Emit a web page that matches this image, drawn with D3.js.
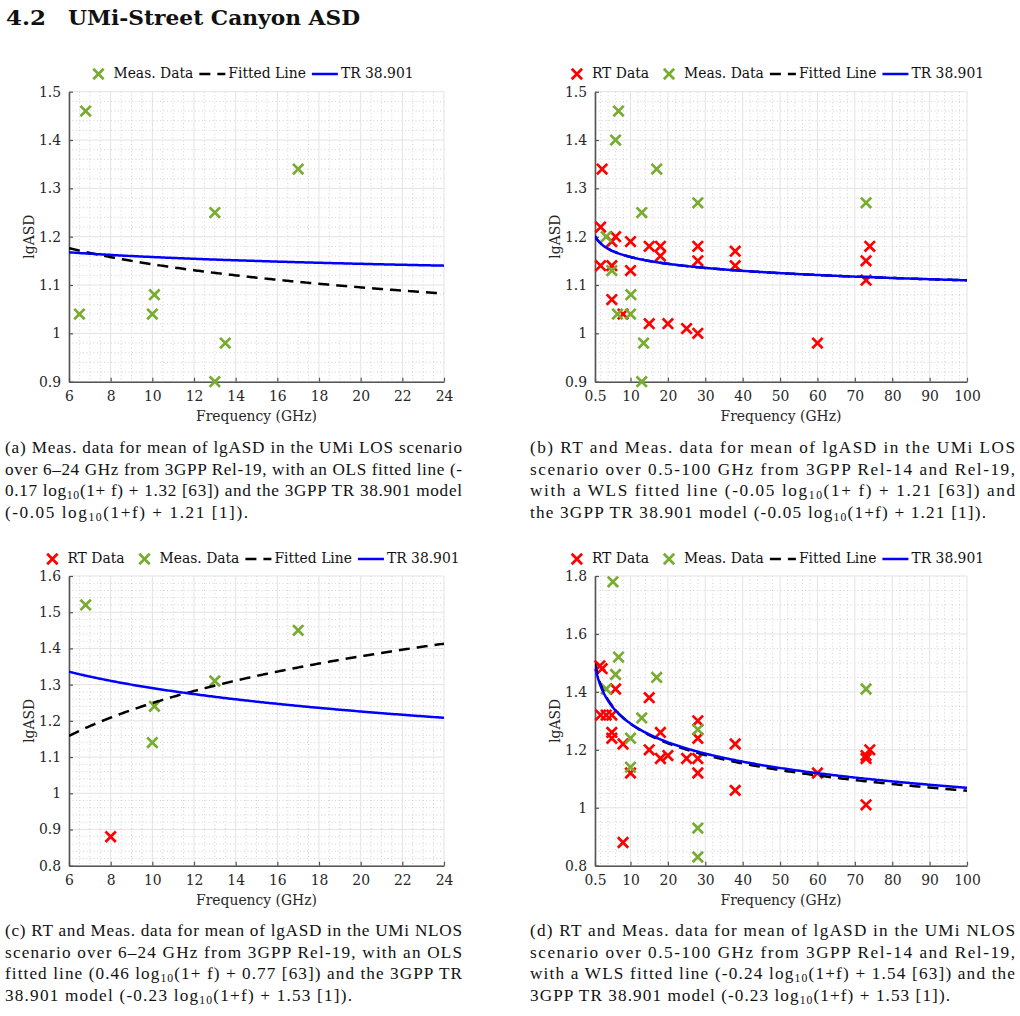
<!DOCTYPE html>
<html><head><meta charset="utf-8">
<script src="https://cdn.jsdelivr.net/npm/d3@7"></script>
<style>
html,body{margin:0;padding:0;background:#fff;}
svg{display:block;}
</style></head>
<body>
<svg id="chart" width="1020" height="1016"></svg>
<script>
// ---------------- DATA ----------------
// Panel (a): UMi LOS, 6-24 GHz, Meas. only
const aMeasF = [6.5, 6.8, 10, 10.1, 13, 13, 13.5, 17];
const aMeasV = [1.04, 1.46, 1.04, 1.08, 1.25, 0.90, 0.98, 1.34];
// Panel (b): UMi LOS, 0.5-100 GHz
const bRtF = [2.4, 2, 6, 5, 10, 15, 18, 18, 28, 28, 2, 5, 10, 5, 8, 15, 20, 25, 28, 38, 38, 60, 74, 73, 73];
const bRtV = [1.34, 1.22, 1.20, 1.19, 1.19, 1.18, 1.18, 1.16, 1.18, 1.15, 1.14, 1.14, 1.13, 1.07, 1.04, 1.02, 1.02, 1.01, 1.00, 1.17, 1.14, 0.98, 1.18, 1.15, 1.11];
const bMeasF = [6.8, 6, 17, 28, 13, 3.5, 5, 10.1, 6.5, 10, 13.5, 13, 73];
const bMeasV = [1.46, 1.40, 1.34, 1.27, 1.25, 1.20, 1.13, 1.08, 1.04, 1.04, 0.98, 0.90, 1.27];
// Panel (c): UMi NLOS, 6-24 GHz
const cRtF = [8];
const cRtV = [0.88];
const cMeasF = [6.8, 17, 13, 10.1, 10];
const cMeasV = [1.52, 1.45, 1.31, 1.24, 1.14];
// Panel (d): UMi NLOS, 0.5-100 GHz
const dRtF = [1.8, 2.4, 6, 15, 2, 3.5, 5, 28, 5, 18, 5, 28, 8, 15, 18, 20, 25, 28, 10, 28, 8, 38, 38, 60, 74, 73, 73, 73];
const dRtV = [1.49, 1.48, 1.41, 1.38, 1.32, 1.32, 1.32, 1.30, 1.26, 1.26, 1.24, 1.24, 1.22, 1.20, 1.17, 1.18, 1.17, 1.17, 1.12, 1.12, 0.88, 1.22, 1.06, 1.12, 1.20, 1.18, 1.17, 1.01];
const dMeasF = [5.3, 6.8, 6, 17, 3.5, 13, 28, 10, 10, 28, 28, 73];
const dMeasV = [1.78, 1.52, 1.46, 1.45, 1.41, 1.31, 1.27, 1.24, 1.14, 0.93, 0.83, 1.41];

// Model coefficients [slope, intercept] of  slope*log10(1+f)+intercept  (from captions)
const aFit = [-0.17, 1.32], aTr = [-0.05, 1.21];
const bFit = [-0.05, 1.21], bTr = [-0.05, 1.21];
const cFit = [0.46, 0.77],  cTr = [-0.23, 1.53];
const dFit = [-0.24, 1.54], dTr = [-0.23, 1.53];

// Tick labels
const xTicksNarrow = [6, 8, 10, 12, 14, 16, 18, 20, 22, 24];
const xTicksWide = [0.5, 10, 20, 30, 40, 50, 60, 70, 80, 90, 100];
const yTicksLos = [0.9, 1, 1.1, 1.2, 1.3, 1.4, 1.5];
const yTicksNlosC = [0.8, 0.9, 1, 1.1, 1.2, 1.3, 1.4, 1.5, 1.6];
const yTicksNlosD = [0.8, 1, 1.2, 1.4, 1.6, 1.8];

const legendNames = {rt: "RT Data", meas: "Meas. Data", fit: "Fitted Line", tr: "TR 38.901"};
const xLabel = "Frequency (GHz)";
const yLabel = "lgASD";

const titleNum = "4.2";
const titleText = "UMi-Street Canyon ASD";

const captions = {
  a: ["(a) Meas. data for mean of lgASD in the UMi LOS scenario",
      "over 6–24 GHz from 3GPP Rel-19, with an OLS fitted line (-",
      "0.17 log10(1+ f) + 1.32 [63]) and the 3GPP TR 38.901 model",
      "(-0.05 log10(1+f) + 1.21 [1])."],
  b: ["(b) RT and Meas. data for mean of lgASD in the UMi LOS",
      "scenario over 0.5-100 GHz from 3GPP Rel-14 and Rel-19,",
      "with a WLS fitted line (-0.05 log10(1+ f) + 1.21 [63]) and",
      "the 3GPP TR 38.901 model (-0.05 log10(1+f) + 1.21 [1])."],
  c: ["(c) RT and Meas. data for mean of lgASD in the UMi NLOS",
      "scenario over 6–24 GHz from 3GPP Rel-19, with an OLS",
      "fitted line (0.46 log10(1+ f) + 0.77 [63]) and the 3GPP TR",
      "38.901 model (-0.23 log10(1+f) + 1.53 [1])."],
  d: ["(d) RT and Meas. data for mean of lgASD in the UMi NLOS",
      "scenario over 0.5-100 GHz from 3GPP Rel-14 and Rel-19,",
      "with a WLS fitted line (-0.24 log10(1+f) + 1.54 [63]) and the",
      "3GPP TR 38.901 model (-0.23 log10(1+f) + 1.53 [1])."]
};

// ---------------- STYLE / LAYOUT ----------------
const FONT = "'DejaVu Serif', 'Liberation Serif', serif";
const CAPFONT = "'Liberation Serif', 'Times New Roman', serif";
const RED = "#ff0000", GREEN = "#77ac30", BLUE = "#0000ff";

const svg = d3.select("#chart");

// fit font size so a reference string gets its measured width
function fitSize(str, target, family, base) {
  const t = svg.append("text").attr("font-family", family).attr("font-size", base).text(str);
  const w = t.node().getComputedTextLength();
  t.remove();
  return base * target / w;
}
const FS = fitSize(xLabel, 121, FONT, 13);   // axis / legend text size
const CFS = 17.2;                            // caption size

// Title
svg.append("text").attr("x", 6).attr("y", 25).attr("font-family", FONT)
  .attr("font-weight", "bold").attr("font-size", 21).attr("fill", "#111")
  .attr("textLength", 40).attr("lengthAdjust", "spacingAndGlyphs").text(titleNum);
svg.append("text").attr("x", 68).attr("y", 25).attr("font-family", FONT)
  .attr("font-weight", "bold").attr("font-size", 21).attr("fill", "#111")
  .attr("textLength", 292).attr("lengthAdjust", "spacingAndGlyphs").text(titleText);

const panels = [
  {id: "a", L: 69, R: 444, T: 91.7, B: 381.7, xDom: [6, 24], xTicks: xTicksNarrow, xMinor: 0.5,
   yDom: [0.9, 1.5], yTicks: yTicksLos, yMinor: 0.02, rtF: [], rtV: [], measF: aMeasF, measV: aMeasV,
   fit: aFit, tr: aTr, legend: ["meas", "fit", "tr"], legY: 74},
  {id: "b", L: 595, R: 967, T: 91.7, B: 381.7, xDom: [0.5, 100], xTicks: xTicksWide, xMinor: 2,
   yDom: [0.9, 1.5], yTicks: yTicksLos, yMinor: 0.02, rtF: bRtF, rtV: bRtV, measF: bMeasF, measV: bMeasV,
   fit: bFit, tr: bTr, legend: ["rt", "meas", "fit", "tr"], legY: 74},
  {id: "c", L: 69, R: 444, T: 576, B: 865.7, xDom: [6, 24], xTicks: xTicksNarrow, xMinor: 0.5,
   yDom: [0.8, 1.6], yTicks: yTicksNlosC, yMinor: 0.02, rtF: cRtF, rtV: cRtV, measF: cMeasF, measV: cMeasV,
   fit: cFit, tr: cTr, legend: ["rt", "meas", "fit", "tr"], legY: 559},
  {id: "d", L: 595, R: 967, T: 576, B: 865.7, xDom: [0.5, 100], xTicks: xTicksWide, xMinor: 2,
   yDom: [0.8, 1.8], yTicks: yTicksNlosD, yMinor: 0.05, rtF: dRtF, rtV: dRtV, measF: dMeasF, measV: dMeasV,
   fit: dFit, tr: dTr, legend: ["rt", "meas", "fit", "tr"], legY: 559}
];

function minorValues(dom, step, majors) {
  const out = [];
  const start = Math.ceil((dom[0] + 1e-9) / step);
  for (let k = start; k * step < dom[1] - 1e-9; k++) {
    const v = +(k * step).toFixed(6);
    if (!majors.some(m => Math.abs(m - v) < 1e-6)) out.push(v);
  }
  return out;
}

function drawX(g, x, y, color) {
  g.append("path").attr("transform", `translate(${x},${y})`)
    .attr("d", "M-5.2,-5.2L5.2,5.2M-5.2,5.2L5.2,-5.2").attr("stroke", color)
    .attr("stroke-width", 2.7).attr("fill", "none");
}

panels.forEach(p => {
  const xs = d3.scaleLinear().domain(p.xDom).range([p.L, p.R]);
  const ys = d3.scaleLinear().domain(p.yDom).range([p.B, p.T]);
  const g = svg.append("g");
  const clipId = "clip-" + p.id;
  svg.append("clipPath").attr("id", clipId).append("rect")
    .attr("x", p.L).attr("y", p.T - 6).attr("width", p.R - p.L + 6).attr("height", p.B - p.T + 12);

  // minor grid
  const xm = minorValues(p.xDom, p.xMinor, p.xTicks);
  const ym = minorValues(p.yDom, p.yMinor, p.yTicks);
  g.selectAll(null).data(xm).enter().append("line")
    .attr("x1", d => xs(d)).attr("x2", d => xs(d)).attr("y1", p.T).attr("y2", p.B)
    .attr("stroke", "#c8c8c8").attr("stroke-width", 0.8).attr("stroke-dasharray", "1,2.5");
  g.selectAll(null).data(ym).enter().append("line")
    .attr("y1", d => ys(d)).attr("y2", d => ys(d)).attr("x1", p.L).attr("x2", p.R)
    .attr("stroke", "#c8c8c8").attr("stroke-width", 0.8).attr("stroke-dasharray", "1,2.5");
  // major grid
  g.selectAll(null).data(p.xTicks).enter().append("line")
    .attr("x1", d => xs(d)).attr("x2", d => xs(d)).attr("y1", p.T).attr("y2", p.B)
    .attr("stroke", "#e3e3e3").attr("stroke-width", 1);
  g.selectAll(null).data(p.yTicks).enter().append("line")
    .attr("y1", d => ys(d)).attr("y2", d => ys(d)).attr("x1", p.L).attr("x2", p.R)
    .attr("stroke", "#e3e3e3").attr("stroke-width", 1);

  // axes via d3 (ticks inward)
  const xAxis = d3.axisBottom(xs).tickValues(p.xTicks).tickSizeInner(-4).tickSizeOuter(0)
    .tickPadding(9).tickFormat(d => String(d));
  const yAxis = d3.axisLeft(ys).tickValues(p.yTicks).tickSizeInner(-4).tickSizeOuter(0)
    .tickPadding(8).tickFormat(d => String(d));
  const gx = g.append("g").attr("transform", `translate(0,${p.B})`).call(xAxis);
  const gy = g.append("g").attr("transform", `translate(${p.L},0)`).call(yAxis);
  [gx, gy].forEach(ax => {
    ax.attr("font-family", FONT).attr("font-size", FS);
    ax.select(".domain").attr("stroke", "#555").attr("stroke-width", 1.6);
    ax.selectAll(".tick line").attr("stroke", "#555").attr("stroke-width", 1.2);
    ax.selectAll(".tick text").attr("fill", "#262626");
  });

  // axis labels
  g.append("text").attr("x", (p.L + p.R) / 2).attr("y", p.B + 39).attr("text-anchor", "middle")
    .attr("font-family", FONT).attr("font-size", FS).attr("fill", "#262626").text(xLabel);
  g.append("text").attr("transform", `translate(${p.L - 39},${(p.T + p.B) / 2}) rotate(-90)`)
    .attr("text-anchor", "middle").attr("dominant-baseline", "middle")
    .attr("font-family", FONT).attr("font-size", FS).attr("fill", "#262626").text(yLabel);

  // markers
  const mg = g.append("g");
  p.rtF.forEach((f, i) => drawX(mg, xs(f), ys(p.rtV[i]), RED));
  p.measF.forEach((f, i) => drawX(mg, xs(f), ys(p.measV[i]), GREEN));

  // lines
  const fs = d3.range(0, 241).map(k => p.xDom[0] + (p.xDom[1] - p.xDom[0]) * k / 240);
  const lineOf = c => d3.line().x(f => xs(f)).y(f => ys(c[0] * Math.log10(1 + f) + c[1]))(fs);
  const lg = g.append("g").attr("clip-path", `url(#${clipId})`);
  lg.append("path").attr("d", lineOf(p.fit)).attr("fill", "none").attr("stroke", "#000")
    .attr("stroke-width", 2.5).attr("stroke-dasharray", "11,7");
  lg.append("path").attr("d", lineOf(p.tr)).attr("fill", "none").attr("stroke", BLUE)
    .attr("stroke-width", 2.5);

  // legend
  const leg = svg.append("g");
  let prevEnd = 0;
  let first = true;
  p.legend.forEach(key => {
    if (key === "rt" || key === "meas") {
      const cx = first ? 5 : prevEnd + 20;
      drawX(leg, cx, p.legY, key === "rt" ? RED : GREEN);
      const t = leg.append("text").attr("x", cx + 15).attr("y", p.legY).attr("dominant-baseline", "middle")
        .attr("font-family", FONT).attr("font-size", FS).attr("fill", "#111").text(legendNames[key]);
      prevEnd = cx + 15 + t.node().getComputedTextLength();
    } else {
      const x1 = prevEnd + 6, x2 = x1 + 26;
      leg.append("line").attr("x1", x1).attr("x2", x2).attr("y1", p.legY).attr("y2", p.legY)
        .attr("stroke", key === "fit" ? "#000" : BLUE).attr("stroke-width", 2.5)
        .attr("stroke-dasharray", key === "fit" ? "11,7" : null);
      const t = leg.append("text").attr("x", x2 + 3).attr("y", p.legY).attr("dominant-baseline", "middle")
        .attr("font-family", FONT).attr("font-size", FS).attr("fill", "#111").text(legendNames[key]);
      prevEnd = x2 + 3 + t.node().getComputedTextLength();
    }
    first = false;
  });
  const center = (p.L + p.R) / 2 - 3;
  leg.attr("transform", `translate(${center - prevEnd / 2},0)`);
});

// ---------------- CAPTIONS ----------------
const capLayout = {
  a: {x: 5, w: 457, y: 453, lastW: 243},
  b: {x: 530, w: 485, y: 453, lastW: 456},
  c: {x: 5, w: 457, y: 936, lastW: 347},
  d: {x: 530, w: 485, y: 936, lastW: 420}
};
Object.keys(captions).forEach(k => {
  const lay = capLayout[k];
  captions[k].forEach((line, i) => {
    const t = svg.append("text").attr("x", lay.x).attr("y", lay.y + i * 21.7)
      .attr("font-family", CAPFONT).attr("font-size", CFS).attr("fill", "#111")
      .attr("textLength", i < 3 ? lay.w : lay.lastW).attr("lengthAdjust", "spacing");
    const parts = line.split("log10");
    parts.forEach((part, j) => {
      if (j > 0) {
        t.append("tspan").text("log");
        t.append("tspan").attr("dy", 3).attr("font-size", CFS * 0.68).text("10");
        t.append("tspan").attr("dy", -3).text(part);
      } else {
        t.append("tspan").text(part);
      }
    });
  });
});
</script>
</body></html>
